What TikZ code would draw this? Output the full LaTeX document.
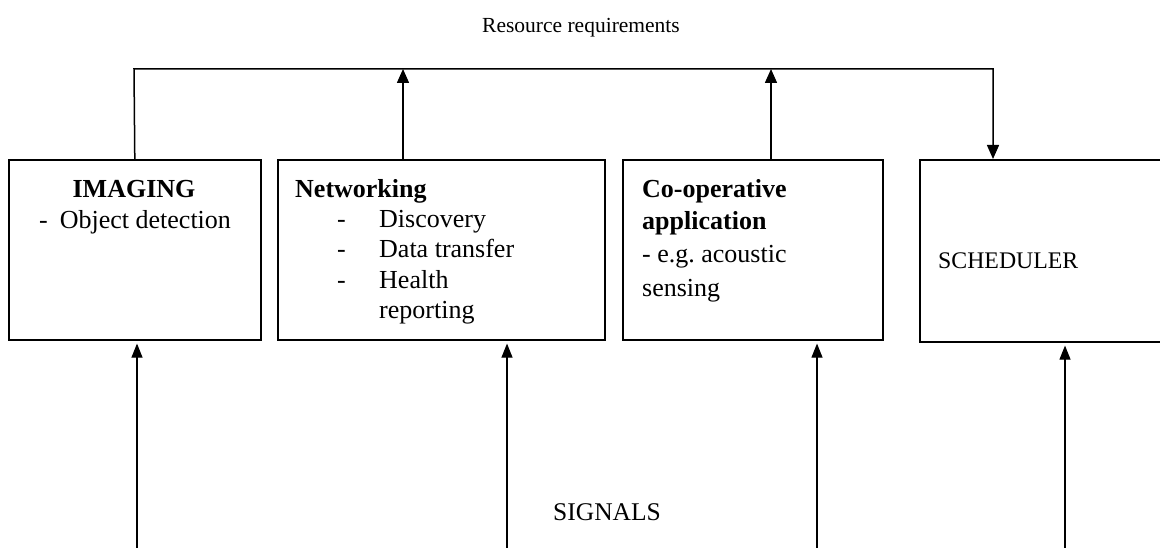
\documentclass[tikz,border=0pt]{standalone}
\usepackage{fontspec}
\setmainfont{Liberation Serif}
\usetikzlibrary{arrows.meta}
\begin{document}
\begin{tikzpicture}[x=1pt,y=-1pt,
  box/.style={draw, line width=1.6pt, inner sep=0pt, anchor=north west},
  txt/.style={inner sep=0pt, anchor=base west, font=\fontsize{26}{30}\selectfont},
  hd/.style={txt, font=\fontsize{26}{30}\selectfont\bfseries},
  label/.style={inner sep=0pt, anchor=base west, font=\fontsize{#1}{#1}\selectfont},
  arr/.style={line width=1.5pt, -{Triangle[length=14pt,width=12pt]}},
  inarr/.style={line width=1.1pt, -{Triangle[length=14pt,width=11pt]}, shorten >=3pt}]
\useasboundingbox (0,0) rectangle (1160,548);
\clip (0,0) rectangle (1160,548);

% processing blocks
\node[box, minimum width=252pt, minimum height=180pt] (img) at (8,159) {};
\node[box, minimum width=327pt, minimum height=180pt] (net) at (277,159) {};
\node[box, minimum width=260pt, minimum height=180pt] (coop) at (622,159) {};
\node[box, minimum width=260pt, minimum height=182pt] (sch) at (919,159) {};

% block texts
\node[inner sep=0pt, anchor=base, font=\fontsize{26}{30}\selectfont\bfseries] (imgT) at (134,198) {IMAGING};
\node[txt] (imgA) at (39,229) {-\hspace{12pt}Object detection};

\node[hd] (netT) at (295,198) {Networking};
\node[txt] (netD1) at (337,228) {-};
\node[txt] (netA) at (379,228) {Discovery};
\node[txt] (netD2) at (337,258) {-};
\node[txt] (netB) at (379,258) {Data transfer};
\node[txt] (netD3) at (337,288) {-};
\node[txt] (netC) at (379,288) {Health};
\node[txt] (netC2) at (379,318) {reporting};

\node[hd] (coopT) at (642,198) {Co-operative};
\node[hd] (coopT2) at (642,230) {application};
\node[txt] (coopA) at (642,263) {- e.g.\ acoustic};
\node[txt] (coopA2) at (642,297) {sensing};

\node[label=23.8] (schT) at (938,269) {SCHEDULER};

% free labels
\node[label=21.5] (res) at (482,33) {Resource requirements};
\node[label=25.5] (sig) at (553,520) {SIGNALS};

% resource requirement bus
\coordinate (busL) at (134,69);
\coordinate (busR) at (993,69);
\draw[arr] (img.north) -- (busL) -- (busR) -- (busR |- sch.north);
\draw[arr] (net.north -| 403,0) -- (busL -| 403,0);
\draw[arr] (coop.north -| 771,0) -- (busL -| 771,0);

% incoming signals
\coordinate (s1) at (137,548);
\coordinate (s2) at (507,548);
\coordinate (s3) at (817,548);
\coordinate (s4) at (1065,548);
\draw[inarr] (s1) -- (s1 |- img.south);
\draw[inarr] (s2) -- (s2 |- net.south);
\draw[inarr] (s3) -- (s3 |- coop.south);
\draw[inarr] (s4) -- (s4 |- sch.south);
\end{tikzpicture}
\end{document}
